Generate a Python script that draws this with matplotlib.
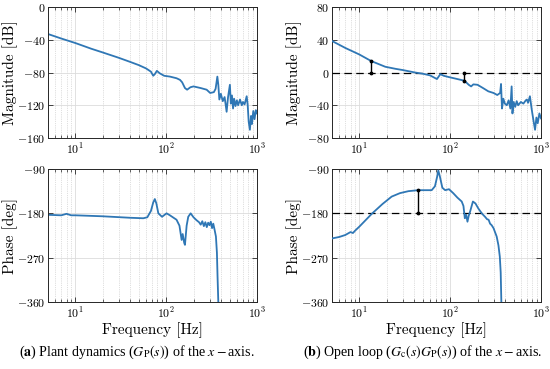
import numpy as np
import matplotlib
matplotlib.use("Agg")
import matplotlib.pyplot as plt
from matplotlib.ticker import LogLocator, NullFormatter, FixedLocator

# ---------------- data ----------------
# Plant magnitude G_P
plant_mag_f = [5, 7, 10, 15, 20, 30, 40, 50, 60, 68, 72, 75, 79, 85, 95, 110, 130, 142,
               150, 161, 170, 185, 200, 240, 279, 305, 335, 350, 366, 375, 385, 400, 420,
               440, 463, 480, 503, 515, 530, 545, 560, 580, 600, 620, 650, 680, 700, 730,
               770, 790, 810, 835, 860, 880, 910, 940, 970, 1000]
plant_mag_db = [-33, -38.5, -44, -51, -55.5, -62, -67, -71, -75, -79, -84, -82, -78, -81,
                -84, -85, -87, -89, -92, -99, -101, -98, -97, -99, -101, -105, -104, -100,
                -85, -95, -113, -106, -115, -110, -128, -110, -95, -118, -108, -124, -112,
                -121, -114, -120, -113, -120, -116, -119, -109, -120, -140, -150, -133,
                -143, -127, -137, -126, -130]

# Plant phase G_P
plant_ph_f = [5, 7, 8, 9, 10, 20, 40, 56, 62, 68, 72, 75, 78, 82, 90, 101, 110, 130, 140,
              148, 152, 158, 161, 168, 175, 186, 200, 216, 230, 240, 250, 260, 270, 280,
              290, 300, 310, 320, 330, 340, 353, 362, 368, 375]
plant_ph_deg = [-183, -184, -181, -184, -184, -186, -189, -190, -188, -175, -158, -151,
                -160, -180, -187, -180, -184, -193, -205, -234, -222, -240, -244, -205,
                -187, -180, -188, -194, -198, -203, -196, -206, -198, -208, -199, -204,
                -197, -210, -201, -212, -227, -260, -310, -360]

# Open loop magnitude G_c G_P
ol_mag_f = [5, 7, 10, 13.5, 19.3, 25, 30, 41, 50, 60, 71.5, 78, 85, 96, 120, 143, 150,
            160, 170, 180, 200, 230, 263, 300, 330, 355, 363, 372, 385, 400, 420, 440,
            460, 475, 485, 500, 520, 540, 560, 600, 640, 680, 700, 720, 755, 790, 830,
            860, 890, 920, 960, 1000]
ol_mag_db = [38.5, 30, 22, 14, 7, 4.5, 3, 0, -1.5, -3.5, -8, -2, -4, -5.5, -8, -10, -12,
             -15, -17, -14.5, -15, -19, -23, -25, -27.5, -25, -14, -44, -32, -38, -40,
             -34, -44, -17, -50, -36, -42, -35, -40, -36, -38, -34, -33, -37, -29, -45,
             -60, -70, -55, -62, -50, -56]

# Open loop phase G_c G_P
ol_ph_f = [5, 6, 7, 8, 8.5, 9, 10, 13.7, 18, 22.7, 28, 34.7, 44.6, 62.6, 68, 72, 74, 77,
           82, 88, 97, 108, 120, 134, 140, 145, 150, 155, 160, 166, 178, 190, 204, 215,
           225, 242, 255, 265, 275, 286, 300, 325, 340, 352, 360, 366]
ol_ph_deg = [-231, -228, -224, -218, -220, -215, -207, -181, -161, -146, -139, -135, -133,
             -133, -125, -105, -93, -105, -128, -133, -131, -139, -148, -156, -165, -190,
             -183, -197, -185, -176, -156, -160, -170, -176, -181, -187, -192, -193,
             -201, -204, -210, -227, -245, -268, -300, -360]

# Margin markers (freq, lower, upper)
gm_marks = [(13.5, 0, 14), (143, -10, 0)]
pm_marks = [(44.6, -180, -133)]

mag_ticks_a = [0, -40, -80, -120, -160]
mag_ticks_b = [80, 40, 0, -40, -80]
ph_ticks = [-90, -180, -270, -360]

# ---------------- style ----------------
plt.rcParams['font.family'] = ['cmr10', 'DejaVu Serif']
plt.rcParams['mathtext.fontset'] = 'cm'
plt.rcParams['axes.unicode_minus'] = False
plt.rcParams['axes.formatter.use_mathtext'] = True

BLUE = '#2f77b5'
AX = '#262626'
TFS = 8.5
LFS = 11

fig = plt.figure(figsize=(5.5, 3.69), dpi=100)

W = 209 / 550
H_top = 131 / 369
H_bot = 133 / 369
x_left = 48 / 550
x_right = 332 / 550
y_top = 1 - 138 / 369
y_bot = 1 - 302 / 369


def style(ax, yticks, ylim):
    ax.set_xscale('log')
    ax.set_xlim(5, 1000)
    ax.set_ylim(*ylim)
    ax.yaxis.set_major_locator(FixedLocator(yticks))
    ax.xaxis.set_major_locator(LogLocator(base=10, numticks=10))
    ax.xaxis.set_minor_locator(LogLocator(base=10, subs=np.arange(2, 10), numticks=20))
    ax.xaxis.set_minor_formatter(NullFormatter())
    ax.grid(True, which='major', color='#dcdcdc', linewidth=0.6, linestyle='-')
    ax.grid(True, which='minor', axis='x', color='#c0c0c0', linewidth=0.5, linestyle=':')
    ax.set_axisbelow(True)
    for s in ax.spines.values():
        s.set_color(AX)
        s.set_linewidth(0.7)
    ax.tick_params(which='both', direction='in', top=True, right=True, colors=AX,
                   labelsize=TFS, labelcolor='black')
    ax.tick_params(which='major', length=3.5, width=0.6)
    ax.tick_params(which='minor', length=2, width=0.5)
    ax.tick_params(axis='x', pad=3)
    ax.tick_params(axis='y', pad=2)


def marks(ax, mk):
    for f, lo, hi in mk:
        ax.plot([f, f], [lo, hi], color='black', lw=1.0, marker='.', ms=3.5, zorder=5)


def ylab(ax, text):
    ax.set_ylabel(text, fontsize=LFS)
    ax.yaxis.set_label_coords(-0.145, 0.5)


# (a) plant
ax1 = fig.add_axes([x_left, y_top, W, H_top])
ax1.plot(plant_mag_f, plant_mag_db, color=BLUE, lw=1.3)
style(ax1, mag_ticks_a, (-160, 0))
ylab(ax1, 'Magnitude [dB]')

ax2 = fig.add_axes([x_left, y_bot, W, H_bot])
ax2.plot(plant_ph_f, plant_ph_deg, color=BLUE, lw=1.3)
style(ax2, ph_ticks, (-360, -90))
ylab(ax2, 'Phase [deg]')
ax2.set_xlabel('Frequency [Hz]', fontsize=LFS, labelpad=1)

# (b) open loop
ax3 = fig.add_axes([x_right, y_top, W, H_top])
ax3.axhline(0, color='black', lw=0.9, dashes=(6, 3.5), zorder=3)
ax3.plot(ol_mag_f, ol_mag_db, color=BLUE, lw=1.3, zorder=4)
marks(ax3, gm_marks)
style(ax3, mag_ticks_b, (-80, 80))
ylab(ax3, 'Magnitude [dB]')

ax4 = fig.add_axes([x_right, y_bot, W, H_bot])
ax4.axhline(-180, color='black', lw=0.9, dashes=(6, 3.5), zorder=3)
ax4.plot(ol_ph_f, ol_ph_deg, color=BLUE, lw=1.3, zorder=4)
marks(ax4, pm_marks)
style(ax4, ph_ticks, (-360, -90))
ylab(ax4, 'Phase [deg]')
ax4.set_xlabel('Frequency [Hz]', fontsize=LFS, labelpad=1)

# captions
cap_kw = dict(ha='center', va='center', fontsize=10.1, family='Liberation Serif',
              math_fontfamily='stix')
fig.text(137 / 550, 1 - 352 / 369,
         r'($\mathbf{a}$) Plant dynamics ($G_{\mathrm{P}}(s)$) of the $x-$axis.', **cap_kw)
fig.text(423 / 550, 1 - 352 / 369,
         r'($\mathbf{b}$) Open loop ($G_{\mathrm{c}}(s)G_{\mathrm{P}}(s)$) of the $x-$axis.',
         **cap_kw)

fig.savefig('out.png', dpi=100)
